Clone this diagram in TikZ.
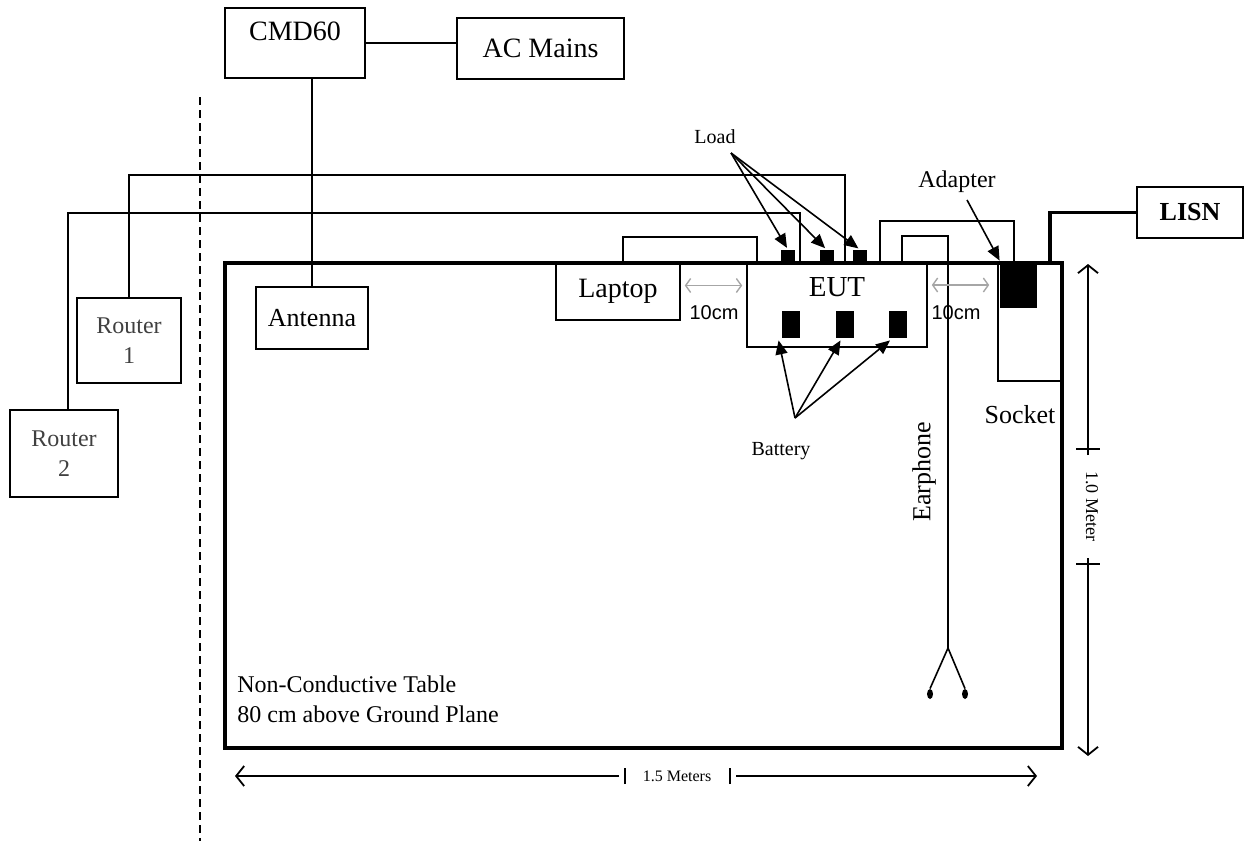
\documentclass[tikz,border=0pt]{standalone}
\usepackage{fontspec}
\setmainfont{Liberation Serif}
\setsansfont{Liberation Sans}
\usetikzlibrary{arrows.meta, shapes.geometric}

\begin{document}
\begin{tikzpicture}[
    x=0.5pt, y=-0.5pt,
    box/.style={rectangle, draw=black, line width=0.8pt, inner sep=0pt,
                align=center, font=\fontsize{13}{15}\selectfont},
    blk/.style={rectangle, fill=black, inner sep=0pt},
    wire/.style={line width=0.8pt},
    power/.style={line width=1.6pt},
    pointer/.style={-{Triangle[length=7pt, width=6pt]}, line width=0.8pt},
    gap/.style={{Straight Barb[length=2.5pt, width=7pt]}-{Straight Barb[length=2.5pt, width=7pt]},
                gray!70, line width=0.7pt},
    dim/.style={-{Straight Barb[length=4pt, width=10pt, line width=0.9pt]}, line width=0.6pt},
    small/.style={font=\fontsize{10}{12}\selectfont},
    bud/.style={ellipse, fill=black, inner sep=0pt, minimum width=3pt, minimum height=5pt},
]
\useasboundingbox (0,0) rectangle (1245,841);

% Measurement equipment
\node[box, minimum width=70pt, text height=16pt, text depth=19pt,
    font=\fontsize{14}{16}\selectfont] (cmd) at (295,43) {CMD60};
\node[box, minimum width=83.5pt, minimum height=30.5pt,
    font=\fontsize{14}{16}\selectfont] (mains) at (540.5,48.5) {AC Mains};
\draw[wire] (cmd.east) -- (cmd.east -| mains.west);

% Table
\node[rectangle, draw=black, line width=1.6pt, minimum width=418.5pt,
    minimum height=242.5pt] (table) at (643.5,505.5) {};
\node[anchor=north west, align=left, inner sep=0pt,
    font=\fontsize{12}{15}\selectfont] (tablelbl) at (237,675)
    {Non-Conductive Table\\80 cm above Ground Plane};

% Antenna
\node[box, minimum width=56pt, minimum height=31pt] (antenna) at (312,318) {Antenna};
\draw[wire] (antenna.north) -- (antenna.north |- cmd.south);

% Dashed border
\draw[dashed, dash pattern=on 4pt off 2.5pt, line width=0.8pt] (200,97) -- (200,841);

% Routers
\node[box, minimum width=52pt, minimum height=42.5pt, text=black!75,
    font=\fontsize{12}{15}\selectfont] (router1) at (129,340.5) {Router\\1};
\node[box, minimum width=54pt, minimum height=43.5pt, text=black!75,
    font=\fontsize{12}{15}\selectfont] (router2) at (64,453.5) {Router\\2};

% Laptop and EUT
\node[box, minimum width=62pt, minimum height=28.5pt,
    font=\fontsize{14}{16}\selectfont] (laptop) at (618,291.5) {Laptop};
\node[box, minimum width=90pt, text height=16.5pt, text depth=25.5pt,
    font=\fontsize{14.5}{16}\selectfont] (eut) at (837,305) {EUT};

% Socket, adapter, LISN
\node[box, minimum width=32.5pt, minimum height=59pt] (socket) at (1030.5,322) {};
\node[blk, minimum width=18.5pt, minimum height=22.5pt] (adapter) at (1018.5,285.5) {};
\node[box, minimum width=53pt, minimum height=25.5pt,
    font=\bfseries\fontsize{13}{15}\selectfont] (lisn) at (1190,212.5) {LISN};
\node[font=\fontsize{13}{15}\selectfont] (socketlbl) at (1020,415) {Socket};
\node[font=\fontsize{12}{14}\selectfont] (adapterlbl) at (957,182) {Adapter};

% Loads and batteries
\foreach \x/\n in {788/1, 826.5/2, 860/3}
    \node[blk, minimum width=7pt, minimum height=6.5pt] (load\n) at (\x,256.5) {};
\foreach \x/\n in {791/1, 844.5/2, 898/3}
    \node[blk, minimum width=9pt, minimum height=13.5pt] (bat\n) at (\x,324.5) {};
\node[small] (loadlbl) at (715,137) {Load};
\node[small] (batlbl) at (781,451) {Battery};
\coordinate (loadtip) at (731,153);
\coordinate (battip) at (795,418);

% Cables
\coordinate (r1in) at (845,263);
\coordinate (r2in) at (800,263);
\coordinate (lapin) at (757,263);
\coordinate (adin) at (880,263);
\coordinate (earin) at (902,263);
\coordinate (plug) at (1050,263);
\coordinate (fork) at (948,648);
\draw[wire] (router1.north) -- ++(0,-122) -| (r1in);
\draw[wire] ([xshift=2pt]router2.north) -- ++(0,-196) -| (r2in);
\draw[wire] ([xshift=2.5pt]laptop.north) -- ++(0,-25) -| (lapin);
\draw[wire] (adin) -- ++(0,-42) -| ([xshift=-2.25pt]adapter.north);
\draw[wire] (earin) -- ++(0,-27) -| (fork);
\draw[power] (plug) |- (lisn.west);

% Earphone
\node[bud] (budl) at (930,694) {};
\node[bud] (budr) at (965,694) {};
\draw[wire] (fork) -- (budl.north);
\draw[wire] (fork) -- (budr.north);
\node[rotate=90, font=\fontsize{13}{15}\selectfont] (earlbl) at (924,472) {Earphone};

% Pointers
\foreach \n in {1,2,3}
    \draw[pointer, shorten >=1pt] (loadtip) -- (load\n.north);
\draw[pointer] (battip) -- ([xshift=-1.5pt,yshift=-1pt]bat1.south west);
\draw[pointer] (battip) -- ([xshift=-2pt,yshift=-1pt]bat2.south);
\draw[pointer] (battip) -- ([xshift=-4pt,yshift=-1pt]bat3.south);
\draw[pointer] ([xshift=5pt]adapterlbl.south) -- ([yshift=1pt]adapter.north west);

% 10 cm gaps
\draw[gap] ([shift={(2pt,3pt)}]laptop.east) -- ([shift={(-2pt,3pt)}]laptop.east -| eut.west);
\draw[gap] ([shift={(2pt,10pt)}]eut.east) -- ([shift={(-4pt,10pt)}]eut.east -| socket.west);
\node[font=\sffamily\fontsize{10}{12}\selectfont] (gap1lbl) at (714,313) {10cm};
\node[font=\sffamily\fontsize{10}{12}\selectfont] (gap2lbl) at (956,313) {10cm};

% Dimensions
\coordinate (vtop) at (1088,264);
\coordinate (vbot) at (1088,756);
\coordinate (vbar1) at (1088,449);
\coordinate (vbar2) at (1088,564);
\draw[dim] ([yshift=-3pt]vbar1) -- (vtop);
\draw[dim] ([yshift=3pt]vbar2) -- (vbot);
\draw[line width=0.8pt] ([xshift=-6pt]vbar1) -- ([xshift=6pt]vbar1);
\draw[line width=0.8pt] ([xshift=-6pt]vbar2) -- ([xshift=6pt]vbar2);
\node[rotate=-90, font=\fontsize{9}{11}\selectfont] (vlbl) at (1092,506) {1.0 Meter};

\coordinate (hleft) at (235,776);
\coordinate (hright) at (1037,776);
\coordinate (hbar1) at (625,776);
\coordinate (hbar2) at (730,776);
\draw[dim] ([xshift=-3pt]hbar1) -- (hleft);
\draw[dim] ([xshift=3pt]hbar2) -- (hright);
\draw[line width=0.8pt] ([yshift=-4pt]hbar1) -- ([yshift=4pt]hbar1);
\draw[line width=0.8pt] ([yshift=-4pt]hbar2) -- ([yshift=4pt]hbar2);
\node[font=\fontsize{8}{10}\selectfont] (hlbl) at (677,776) {1.5 Meters};

\end{tikzpicture}
\end{document}
